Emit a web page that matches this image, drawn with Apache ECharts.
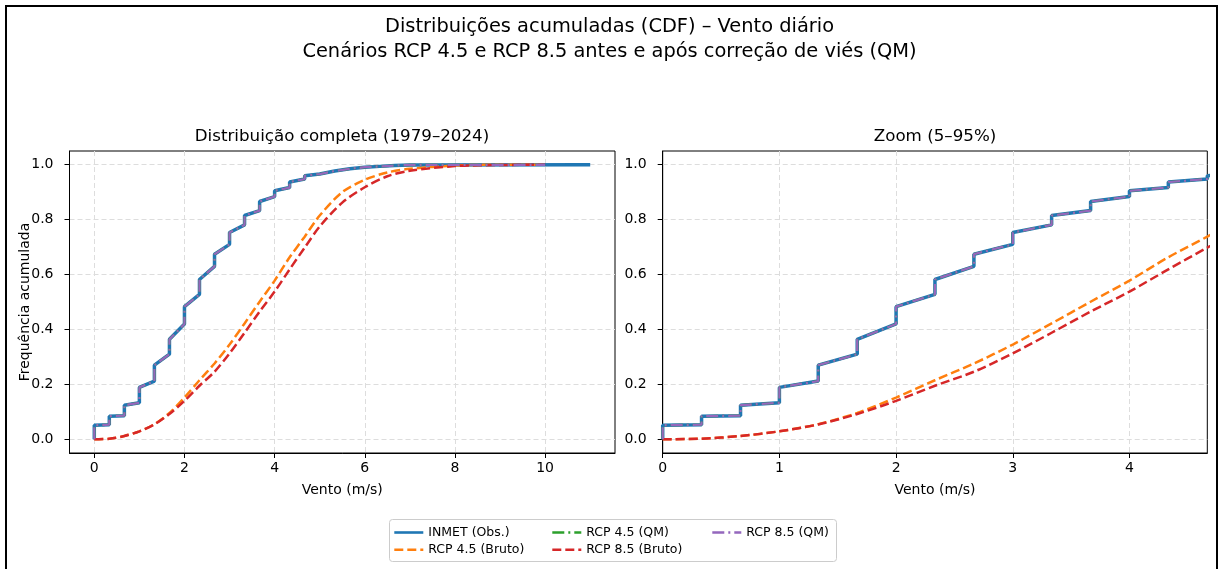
<!DOCTYPE html>
<html>
<head>
<meta charset="utf-8">
<script src="https://cdn.jsdelivr.net/npm/echarts@6/dist/echarts.min.js"></script>
<style>
  html, body { margin: 0; padding: 0; background: #fff; }
  #grafico { width: 1219px; height: 569px; }
</style>
</head>
<body>
<div id="grafico"></div>
<script>
// degraus da CDF observada (INMET) - valor antes e depois de cada salto
const degrausX = [0, 0.333, 0.667, 1.0, 1.333, 1.667, 2.0, 2.333, 2.667, 3.0, 3.333, 3.667, 4.0, 4.333, 4.667, 5.0, 5.333, 5.667, 6.0, 6.333, 6.667, 7.0];
const obsAntes = [0, 0.053, 0.086, 0.133, 0.212, 0.310, 0.420, 0.528, 0.630, 0.710, 0.781, 0.833, 0.884, 0.917, 0.948, 0.966, 0.977, 0.985, 0.991, 0.994, 0.997, 0.999];
const obsDepois = [0.051, 0.084, 0.124, 0.189, 0.270, 0.364, 0.483, 0.582, 0.674, 0.753, 0.815, 0.866, 0.905, 0.937, 0.960, 0.973, 0.982, 0.988, 0.993, 0.996, 0.998, 1.0];
const obsFim = 11.0;
const qmFim = 10.0;

// curvas brutas dos modelos
const brutoX = [0, 0.333, 0.667, 1.0, 1.333, 1.667, 2.0, 2.333, 2.667, 3.0, 3.333, 3.667, 4.0, 4.333, 4.667, 5.0, 5.5, 6.0, 6.5, 7.0, 8.0, 9.0, 10.0];
const rcp45Bruto = [0, 0.002, 0.012, 0.029, 0.055, 0.096, 0.152, 0.215, 0.276, 0.345, 0.422, 0.501, 0.578, 0.663, 0.738, 0.815, 0.900, 0.945, 0.972, 0.985, 0.997, 1.0, 1.0];
const rcp85Bruto = [0, 0.002, 0.012, 0.029, 0.054, 0.092, 0.140, 0.195, 0.246, 0.313, 0.388, 0.465, 0.538, 0.619, 0.698, 0.775, 0.862, 0.918, 0.958, 0.978, 0.995, 0.999, 1.0];

const ticksXCompleto = [0, 2, 4, 6, 8, 10];
const ticksXZoom = [0, 1, 2, 3, 4];
const ticksY = [0, 0.2, 0.4, 0.6, 0.8, 1.0];

const fonte = "DejaVu Sans";

function degraus(fim) {
  let pts = [];
  for (let i = 0; i < degrausX.length; i++) {
    pts.push([degrausX[i], obsAntes[i]]);
    pts.push([degrausX[i], obsDepois[i]]);
  }
  pts.push([fim, 1.0]);
  return pts;
}

function pares(xs, ys) {
  return xs.map((x, i) => [x, ys[i]]);
}

function eixoX(idx, min, max, ticks) {
  return {
    type: "value", gridIndex: idx, min: min, max: max,
    name: "Vento (m/s)", nameLocation: "middle", nameGap: 30,
    nameTextStyle: { fontFamily: fonte, fontSize: 14, color: "#000" },
    axisLine: { show: true, onZero: false, lineStyle: { color: "#000", width: 1 } },
    axisTick: { show: true, length: 5, customValues: ticks, lineStyle: { color: "#000" } },
    axisLabel: { customValues: ticks, margin: 8, fontFamily: fonte, fontSize: 14, color: "#000" },
    splitLine: { show: true, lineStyle: { color: "#dddddd", type: [5, 3], width: 1 } }
  };
}

function eixoY(idx, comNome) {
  return {
    type: "value", gridIndex: idx, min: -0.05, max: 1.05,
    name: comNome ? "Frequência acumulada" : "", nameLocation: "middle", nameGap: 37,
    nameMoveOverlap: false,
    nameTextStyle: { fontFamily: fonte, fontSize: 14, color: "#000" },
    axisLine: { show: true, onZero: false, lineStyle: { color: "#000", width: 1 } },
    axisTick: { show: true, length: 5, customValues: ticksY, lineStyle: { color: "#000" } },
    axisLabel: { customValues: ticksY, margin: 16, fontFamily: fonte, fontSize: 14, color: "#000",
      formatter: v => v.toFixed(1) },
    splitLine: { show: true, lineStyle: { color: "#dddddd", type: [5, 3], width: 1 } }
  };
}

function seriesDoPainel(idx) {
  return [
    { name: "INMET (Obs.)", type: "line", xAxisIndex: idx, yAxisIndex: idx, data: degraus(obsFim),
      symbol: "none", lineStyle: { color: "#1f77b4", width: 3.5 }, itemStyle: { color: "#1f77b4" } },
    { name: "RCP 4.5 (Bruto)", type: "line", xAxisIndex: idx, yAxisIndex: idx, data: pares(brutoX, rcp45Bruto),
      symbol: "none", smooth: 0.3, lineStyle: { color: "#ff7f0e", width: 2.5, type: [9, 4] }, itemStyle: { color: "#ff7f0e" } },
    { name: "RCP 4.5 (QM)", type: "line", xAxisIndex: idx, yAxisIndex: idx, data: degraus(qmFim),
      symbol: "none", lineStyle: { color: "#2ca02c", width: 2.3, type: [12, 4, 2, 4] }, itemStyle: { color: "#2ca02c" } },
    { name: "RCP 8.5 (Bruto)", type: "line", xAxisIndex: idx, yAxisIndex: idx, data: pares(brutoX, rcp85Bruto),
      symbol: "none", smooth: 0.3, lineStyle: { color: "#d62728", width: 2.5, type: [9, 4] }, itemStyle: { color: "#d62728" } },
    { name: "RCP 8.5 (QM)", type: "line", xAxisIndex: idx, yAxisIndex: idx, data: degraus(qmFim),
      symbol: "none", lineStyle: { color: "#9467bd", width: 2.3, type: [12, 4, 2, 4] }, itemStyle: { color: "#9467bd" } }
  ];
}

function legenda(left, nomes) {
  return {
    data: nomes, orient: "vertical", left: left, top: 526,
    itemWidth: 29, itemHeight: 14, itemGap: 4.3, padding: 0,
    itemStyle: { opacity: 0 },
    lineStyle: { width: 2.6 },
    textStyle: { fontFamily: fonte, fontSize: 12.5, color: "#000" }
  };
}

let grafico = echarts.init(document.getElementById("grafico"), null, { renderer: "canvas" });

let option = {
  animation: false,
  backgroundColor: "#fff",
  title: [
    { text: "Distribuições acumuladas (CDF) – Vento diário\nCenários RCP 4.5 e RCP 8.5 antes e após correção de viés (QM)",
      left: "center", top: 9,
      textStyle: { fontFamily: fonte, fontSize: 19.4, fontWeight: "normal", color: "#000", lineHeight: 25, align: "center" } }
  ],
  grid: [
    { left: 69.5, top: 151, width: 545.5, height: 302, show: true, borderColor: "#000", borderWidth: 1, backgroundColor: "transparent" },
    { left: 662.7, top: 151, width: 544.6, height: 302, show: true, borderColor: "#000", borderWidth: 1, backgroundColor: "transparent" }
  ],
  xAxis: [eixoX(0, -0.55, 11.55, ticksXCompleto), eixoX(1, 0, 4.667, ticksXZoom)],
  yAxis: [eixoY(0, true), eixoY(1, false)],
  legend: [
    legenda(393, ["INMET (Obs.)", "RCP 4.5 (Bruto)"]),
    legenda(551, ["RCP 4.5 (QM)", "RCP 8.5 (Bruto)"]),
    legenda(711, ["RCP 8.5 (QM)"])
  ],
  graphic: [
    { type: "rect", shape: { x: 6, y: 6, width: 1211, height: 620 }, style: { fill: "none", stroke: "#000", lineWidth: 2 }, silent: true },
    { type: "rect", shape: { x: 389.5, y: 519.5, width: 447, height: 42, r: 3 }, style: { fill: "none", stroke: "#cccccc", lineWidth: 1 }, silent: true },
    { type: "text", x: 342, y: 137, style: { text: "Distribuição completa (1979–2024)", fontFamily: fonte, fontSize: 16.7, fill: "#000", textAlign: "center", textVerticalAlign: "middle" } },
    { type: "text", x: 935, y: 137, style: { text: "Zoom (5–95%)", fontFamily: fonte, fontSize: 16.7, fill: "#000", textAlign: "center", textVerticalAlign: "middle" } }
  ],
  series: seriesDoPainel(0).concat(seriesDoPainel(1))
};

grafico.setOption(option);
</script>
</body>
</html>
